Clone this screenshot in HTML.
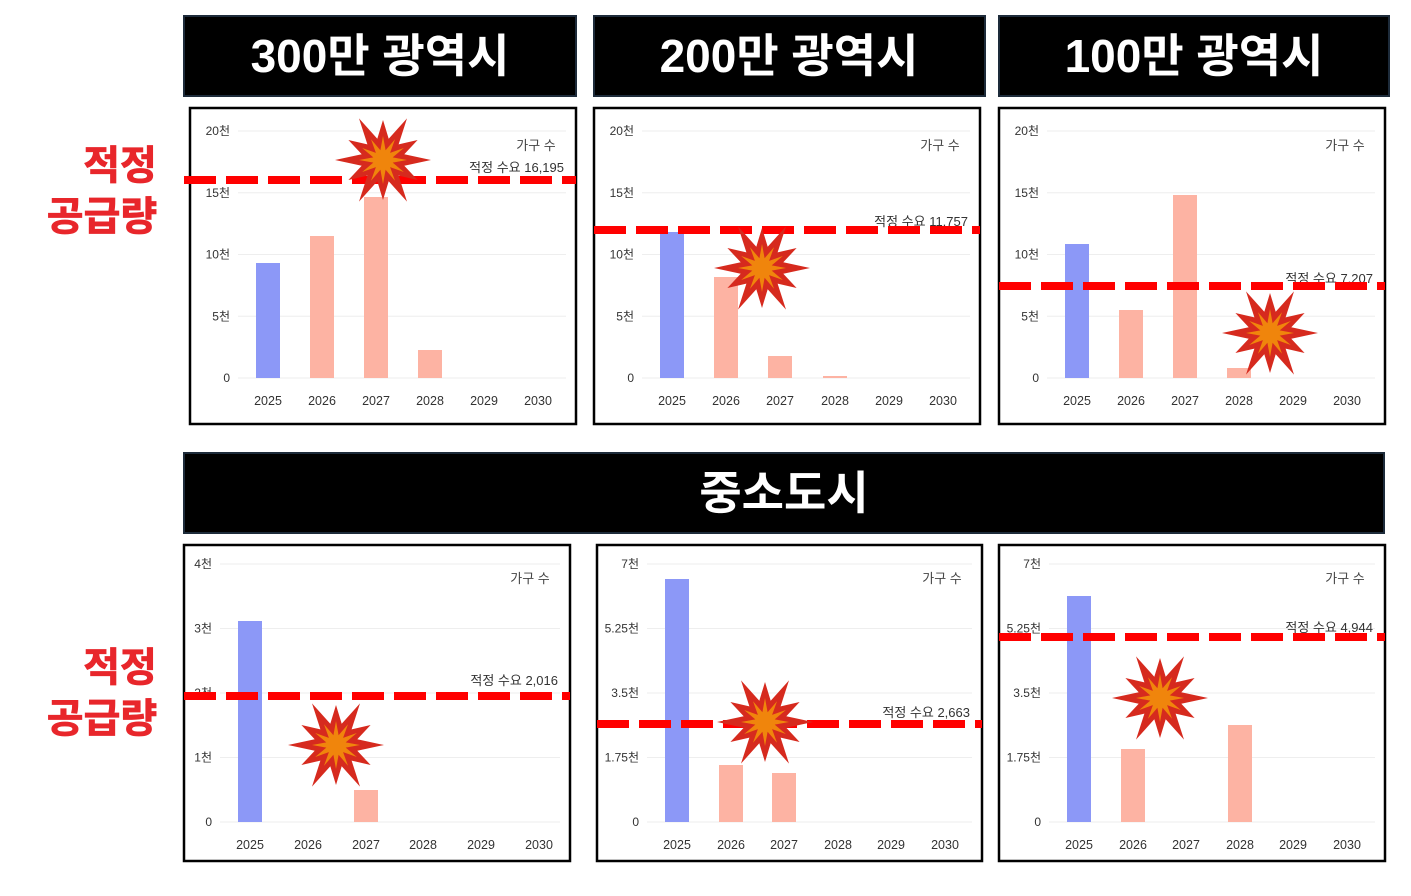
<!DOCTYPE html>
<html><head><meta charset="utf-8"><style>
body{margin:0;background:#fff}
svg{display:block}
text{font-family:"Liberation Sans","Noto Sans CJK KR",sans-serif}
</style></head><body>
<svg id="s" width="1411" height="896" xmlns="http://www.w3.org/2000/svg">
<rect width="1411" height="896" fill="#fff"/>
<g font-weight="bold" fill="#fff" font-size="46" text-anchor="middle">
<rect x="184" y="16" width="392" height="80" fill="#000" stroke="#1d2b3a" stroke-width="2"/>
<rect x="594" y="16" width="391" height="80" fill="#000" stroke="#1d2b3a" stroke-width="2"/>
<rect x="999" y="16" width="390" height="80" fill="#000" stroke="#1d2b3a" stroke-width="2"/>
<rect x="184" y="453" width="1200" height="80" fill="#000" stroke="#1d2b3a" stroke-width="2"/>
<text x="380" y="72">300만 광역시</text>
<text x="789" y="72">200만 광역시</text>
<text x="1194" y="72">100만 광역시</text>
<text x="784" y="509">중소도시</text>
</g>
<g font-weight="bold" fill="#e8262b" font-size="40" text-anchor="middle" stroke="#e8262b" stroke-width="0.8">
<text x="120" y="179">적정</text><text x="102" y="230">공급량</text>
<text x="120" y="681">적정</text><text x="102" y="732">공급량</text>
</g>
<g id="charts"></g>
</svg>
<script>
const g=document.getElementById('charts');let h='';
function star(cx,cy){let o='',i2='';const n=12;for(let i=0;i<n*2;i++){const a=i*Math.PI/n-Math.PI/2;const r=i%2?22:(i%4?48:40);const r2=i%2?10:24;o+=(cx+r*Math.cos(a)).toFixed(1)+','+(cy+r*Math.sin(a)).toFixed(1)+' ';i2+=(cx+r2*Math.cos(a)).toFixed(1)+','+(cy+r2*Math.sin(a)).toFixed(1)+' ';}
return `<polygon points="${o}" fill="#d62a1e"/><polygon points="${i2}" fill="#f0850c"/>`;}
const P=[
{x:190,y:108,w:386,h:316,ylab:['0','5천','10천','15천','20천'],y0:378,yt:131,cx:[268,322,376,430,484,538],bars:[263,236,197,350,378,378],dash:180,dx0:184,dx1:576,lab:'적정 수요 16,195',ly:172,star:[383,160],hh:147},
{x:594,y:108,w:386,h:316,ylab:['0','5천','10천','15천','20천'],y0:378,yt:131,cx:[672,726,780,835,889,943],bars:[232,277,356,376,378,378],dash:230,dx0:594,dx1:980,lab:'적정 수요 11,757',ly:226,star:[762,268],hh:147},
{x:999,y:108,w:386,h:316,ylab:['0','5천','10천','15천','20천'],y0:378,yt:131,cx:[1077,1131,1185,1239,1293,1347],bars:[244,310,195,368,378,378],dash:286,dx0:999,dx1:1385,lab:'적정 수요 7,207',ly:283,star:[1270,333],hh:147},
{x:184,y:545,w:386,h:316,ylab:['0','1천','2천','3천','4천'],y0:822,yt:564,cx:[250,308,366,423,481,539],bars:[621,822,790,822,822,822],dash:696,dx0:184,dx1:570,lab:'적정 수요 2,016',ly:685,star:[336,745],hh:580},
{x:597,y:545,w:385,h:316,ylab:['0','1.75천','3.5천','5.25천','7천'],y0:822,yt:564,cx:[677,731,784,838,891,945],bars:[579,765,773,822,822,822],dash:724,dx0:597,dx1:982,lab:'적정 수요 2,663',ly:717,star:[765,722],hh:580},
{x:999,y:545,w:386,h:316,ylab:['0','1.75천','3.5천','5.25천','7천'],y0:822,yt:564,cx:[1079,1133,1186,1240,1293,1347],bars:[596,749,822,725,822,822],dash:637,dx0:999,dx1:1385,lab:'적정 수요 4,944',ly:632,star:[1160,698],hh:580}];
P.forEach(p=>{
h+=`<rect x="${p.x}" y="${p.y}" width="${p.w}" height="${p.h}" fill="#fff" stroke="#000" stroke-width="2.5"/>`;
const gl=p.cx[0]-30,gr=p.x+p.w-10;
for(let k=0;k<5;k++){const y=p.y0-(p.y0-p.yt)*k/4;h+=`<line x1="${gl}" x2="${gr}" y1="${y}" y2="${y}" stroke="#eee" stroke-width="1"/>`;
h+=`<text x="${gl-8}" y="${y+4}" font-size="12" fill="#333" text-anchor="end">${p.ylab[k]}</text>`;}
p.cx.forEach((c,i)=>{const t=p.bars[i];if(t<p.y0)h+=`<rect x="${c-12}" y="${t}" width="24" height="${p.y0-t}" fill="${i==0?'#8c98f7':'#fdb3a3'}"/>`;
h+=`<text x="${c}" y="${p.y0+27}" font-size="12.5" fill="#333" text-anchor="middle">${2025+i}</text>`;});
h+=`<text x="${gr-30}" y="${p.hh+3}" font-size="13" fill="#444" text-anchor="middle">가구 수</text>`;
h+=`<text x="${gr-2}" y="${p.ly}" font-size="13" fill="#333" text-anchor="end">${p.lab}</text>`;
h+=`<line x1="${p.dx0}" x2="${p.dx1}" y1="${p.dash}" y2="${p.dash}" stroke="#ff0000" stroke-width="8" stroke-dasharray="32,10"/>`;
h+=star(p.star[0],p.star[1]);
});
g.innerHTML=h;
</script>
</body></html>
